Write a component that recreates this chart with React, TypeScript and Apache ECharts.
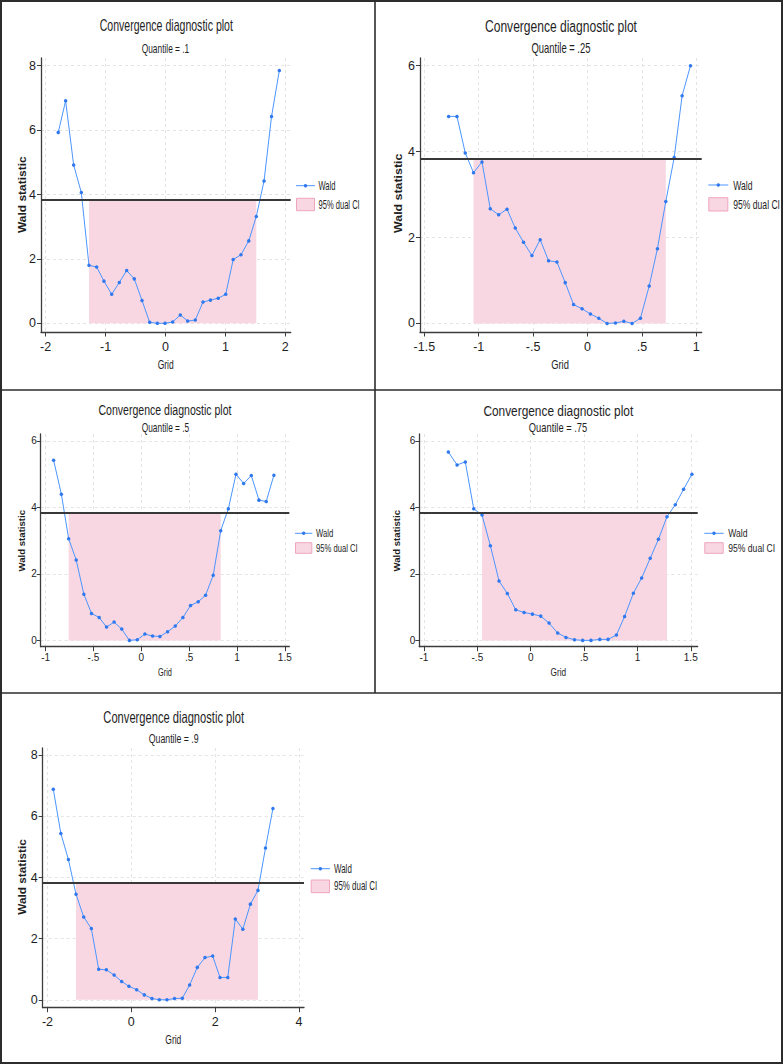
import React, { useEffect, useRef } from 'react';
import * as echarts from 'echarts';

// ---------------- DATA ----------------
const critValue = 3.84;
const quantileLabels = ['.1', '.25', '.5', '.75', '.9'];

const gridQ10 = [-1.79, -1.667, -1.533, -1.405, -1.277, -1.149, -1.027, -0.898, -0.771, -0.648, -0.521, -0.392, -0.264, -0.136, -0.008, 0.12, 0.247, 0.37, 0.497, 0.626, 0.75, 0.88, 1.005, 1.13, 1.26, 1.39, 1.516, 1.645, 1.77, 1.9];
const waldQ10 = [5.93, 6.91, 4.92, 4.06, 1.8, 1.75, 1.31, 0.9, 1.27, 1.64, 1.38, 0.71, 0.03, 0, 0, 0.04, 0.26, 0.07, 0.1, 0.66, 0.72, 0.78, 0.9, 1.98, 2.13, 2.56, 3.32, 4.42, 6.42, 7.85];

const gridQ25 = [-1.277, -1.2, -1.124, -1.048, -0.97, -0.894, -0.817, -0.74, -0.664, -0.588, -0.511, -0.435, -0.358, -0.281, -0.205, -0.128, -0.05, 0.027, 0.104, 0.18, 0.257, 0.334, 0.41, 0.487, 0.567, 0.643, 0.72, 0.797, 0.87, 0.947];
const waldQ25 = [4.82, 4.82, 3.97, 3.51, 3.76, 2.67, 2.53, 2.66, 2.22, 1.89, 1.58, 1.95, 1.46, 1.43, 0.95, 0.44, 0.34, 0.22, 0.12, 0, 0.01, 0.05, 0, 0.12, 0.87, 1.74, 2.84, 3.86, 5.3, 6.0];

const gridQ50 = [-0.916, -0.835, -0.759, -0.68, -0.6, -0.52, -0.44, -0.363, -0.284, -0.204, -0.124, -0.042, 0.038, 0.118, 0.195, 0.275, 0.355, 0.435, 0.515, 0.595, 0.672, 0.752, 0.83, 0.91, 0.99, 1.07, 1.15, 1.23, 1.306, 1.386];
const waldQ50 = [5.42, 4.4, 3.06, 2.42, 1.39, 0.81, 0.69, 0.4, 0.55, 0.34, 0, 0.02, 0.19, 0.13, 0.12, 0.26, 0.43, 0.69, 1.05, 1.16, 1.36, 1.96, 3.3, 3.96, 5.0, 4.72, 4.96, 4.22, 4.18, 4.97];

const gridQ75 = [-0.772, -0.69, -0.613, -0.534, -0.456, -0.378, -0.297, -0.219, -0.14, -0.062, 0.016, 0.094, 0.172, 0.253, 0.331, 0.41, 0.487, 0.565, 0.647, 0.725, 0.803, 0.88, 0.962, 1.04, 1.12, 1.197, 1.277, 1.355, 1.433, 1.511];
const waldQ75 = [5.67, 5.28, 5.37, 3.96, 3.77, 2.85, 1.79, 1.41, 0.92, 0.84, 0.79, 0.73, 0.52, 0.22, 0.09, 0.02, 0, 0, 0.03, 0.03, 0.16, 0.72, 1.42, 1.88, 2.47, 3.04, 3.72, 4.08, 4.55, 5.0];

const gridQ90 = [-1.86, -1.68, -1.5, -1.318, -1.135, -0.953, -0.778, -0.595, -0.41, -0.23, -0.056, 0.127, 0.31, 0.493, 0.668, 0.85, 1.03, 1.216, 1.39, 1.574, 1.757, 1.94, 2.115, 2.3, 2.48, 2.66, 2.84, 3.02, 3.2, 3.377];
const waldQ90 = [6.89, 5.44, 4.59, 3.45, 2.71, 2.33, 1.0, 0.98, 0.81, 0.6, 0.44, 0.33, 0.16, 0.04, 0, 0, 0.04, 0.05, 0.48, 1.06, 1.38, 1.43, 0.73, 0.73, 2.64, 2.31, 3.13, 3.58, 4.97, 6.26];

const ciLow = [-1.277, -1.048, -0.759, -0.456, -1.318];
const ciHigh = [1.516, 0.72, 0.83, 1.277, 3.02];

const xTicksQ10 = [-2, -1, 0, 1, 2];
const xTicksQ25 = [-1.5, -1, -0.5, 0, 0.5, 1];
const xTicksQ50 = [-1, -0.5, 0, 0.5, 1, 1.5];
const xTicksQ75 = [-1, -0.5, 0, 0.5, 1, 1.5];
const xTicksQ90 = [-2, 0, 2, 4];
const yTicksQ10 = [0, 2, 4, 6, 8];
const yTicksQ25 = [0, 2, 4, 6];
const yTicksQ50 = [0, 2, 4, 6];
const yTicksQ75 = [0, 2, 4, 6];
const yTicksQ90 = [0, 2, 4, 6, 8];

const gridValues = [gridQ10, gridQ25, gridQ50, gridQ75, gridQ90];
const waldValues = [waldQ10, waldQ25, waldQ50, waldQ75, waldQ90];
const xTicks = [xTicksQ10, xTicksQ25, xTicksQ50, xTicksQ75, xTicksQ90];
const yTicks = [yTicksQ10, yTicksQ25, yTicksQ50, yTicksQ75, yTicksQ90];

const titleText = 'Convergence diagnostic plot';
const yNameText = 'Wald statistic';
const xNameText = 'Grid';
const waldName = 'Wald';
const ciName = '95% dual CI';

// ---------------- LAYOUT ----------------
const layout = [
  {
    grid: { left: 41, top: 58, width: 249.7, height: 274 }, xr: [-2.078, 2.09], yr: [-0.27, 8.24],
    tickFont: 12.5, xMargin: 8, yMargin: 5,
    title: { x: 166.3, y: 26, size: 16, sx: 0.66 }, sub: { x: 165.5, y: 48.3, size: 13, sx: 0.643 },
    yName: { x: 22.7, y: 194.7, size: 12, bold: true }, xName: { x: 165.7, y: 364, size: 12.5, sx: 0.68 },
    legend: { x: 296, lw: 19, yWald: 185.7, rectTop: 198.3, rectH: 12.4, tx: 318.5, yCi: 204.7, font: 12, sx: 0.632 },
  },
  {
    grid: { left: 420, top: 58, width: 281.7, height: 274 }, xr: [-1.54, 1.05], yr: [-0.2, 6.18],
    tickFont: 12.5, xMargin: 8, yMargin: 5,
    title: { x: 561, y: 26, size: 17, sx: 0.709 }, sub: { x: 561, y: 48.7, size: 14, sx: 0.674 },
    yName: { x: 398.3, y: 193.3, size: 12.4, bold: true }, xName: { x: 560, y: 364, size: 13, sx: 0.72 },
    legend: { x: 708.3, lw: 20, yWald: 185, rectTop: 197.7, rectH: 13.3, tx: 733.3, yCi: 204.3, font: 13, sx: 0.66 },
  },
  {
    grid: { left: 40.7, top: 434, width: 248.6, height: 212.7 }, xr: [-1.051, 1.547], yr: [-0.19, 6.21],
    tickFont: 10, xMargin: 6, yMargin: 4,
    title: { x: 165, y: 410, size: 15.5, sx: 0.68 }, sub: { x: 165.5, y: 427.3, size: 12.5, sx: 0.668 },
    yName: { x: 22.7, y: 540.7, size: 9.6, bold: true }, xName: { x: 165, y: 672.3, size: 11, sx: 0.67 },
    legend: { x: 295, lw: 17.3, yWald: 533.3, rectTop: 542.7, rectH: 10.6, tx: 316, yCi: 548, font: 11, sx: 0.696 },
  },
  {
    grid: { left: 419.3, top: 434, width: 278.4, height: 212.7 }, xr: [-1.044, 1.565], yr: [-0.19, 6.21],
    tickFont: 10, xMargin: 6, yMargin: 4,
    title: { x: 558.3, y: 410, size: 15.5, sx: 0.767 }, sub: { x: 558, y: 427.3, size: 12.5, sx: 0.746 },
    yName: { x: 397.7, y: 540.7, size: 9.6, bold: true }, xName: { x: 558.3, y: 672.3, size: 11, sx: 0.75 },
    legend: { x: 704.3, lw: 19.4, yWald: 533.3, rectTop: 542.7, rectH: 10.6, tx: 728.3, yCi: 548, font: 11, sx: 0.78 },
  },
  {
    grid: { left: 42.7, top: 748, width: 261.3, height: 259.7 }, xr: [-2.113, 4.118], yr: [-0.26, 8.24],
    tickFont: 12.5, xMargin: 8, yMargin: 5,
    title: { x: 173.7, y: 716.7, size: 16.5, sx: 0.676 }, sub: { x: 173.7, y: 738.3, size: 13.5, sx: 0.65 },
    yName: { x: 22.7, y: 877, size: 11.8, bold: true }, xName: { x: 173.3, y: 1039, size: 12.5, sx: 0.68 },
    legend: { x: 310.7, lw: 19.3, yWald: 868.7, rectTop: 880, rectH: 12.7, tx: 334, yCi: 886.3, font: 12.5, sx: 0.636 },
  },
];

const SANS = "'Liberation Sans', Arial, Helvetica, sans-serif";
const BLUE = '#4b95ff';
const BLUE_DARK = '#2f78ee';
const PINK = '#f8d7e2';
const PINK_EDGE = '#efa6bd';
const INK = '#1e1e1e';
const AXIS = '#3c3c3c';
const FRAME = '#2c2c2c';

function fmt(v: number): string {
  if (v === 0) return '0';
  return String(v).replace(/^(-?)0\./, '$1.');
}

function buildOption() {
  const grids: any[] = [];
  const xAxes: any[] = [];
  const yAxes: any[] = [];
  const series: any[] = [];
  const graphics: any[] = [];

  layout.forEach((p, i) => {
    grids.push({ ...p.grid, containLabel: false });
    xAxes.push({
      type: 'value', gridIndex: i, min: p.xr[0], max: p.xr[1],
      axisLine: { show: true, onZero: false, lineStyle: { color: AXIS, width: 1.3 } },
      axisTick: { show: true, length: 4.5, customValues: xTicks[i], lineStyle: { color: AXIS, width: 1 } },
      axisLabel: { customValues: xTicks[i], formatter: fmt, fontSize: p.tickFont, fontFamily: SANS, color: INK, margin: p.xMargin },
      splitLine: { show: true, lineStyle: { color: '#e4e4e4', type: [3, 3], width: 1 } },
    });
    yAxes.push({
      type: 'value', gridIndex: i, min: p.yr[0], max: p.yr[1],
      axisLine: { show: true, onZero: false, lineStyle: { color: AXIS, width: 1.3 } },
      axisTick: { show: true, length: 4, customValues: yTicks[i], lineStyle: { color: AXIS, width: 1 } },
      axisLabel: { customValues: yTicks[i], formatter: fmt, fontSize: p.tickFont, fontFamily: SANS, color: INK, margin: p.yMargin },
      splitLine: { show: true, lineStyle: { color: '#e4e4e4', type: [3, 3], width: 1 } },
    });

    series.push({
      type: 'line', name: ciName, xAxisIndex: i, yAxisIndex: i,
      data: [[ciLow[i], critValue], [ciHigh[i], critValue]],
      symbol: 'none', silent: true, z: 1,
      lineStyle: { width: 0, color: PINK }, itemStyle: { color: PINK },
      areaStyle: { color: PINK, opacity: 1 },
    });
    series.push({
      type: 'line', name: waldName, xAxisIndex: i, yAxisIndex: i,
      data: gridValues[i].map((x, j) => [x, waldValues[i][j]]),
      symbol: 'circle', symbolSize: 3.5, showAllSymbol: true, z: 3, silent: true,
      lineStyle: { color: BLUE, width: 1 }, itemStyle: { color: BLUE_DARK },
      markLine: {
        silent: true, symbol: ['none', 'none'], label: { show: false },
        lineStyle: { color: '#383838', width: 1.8, type: 'solid' },
        data: [{ yAxis: critValue }],
      },
    });

    // legend (drawn as graphic so its text can be condensed like the reference)
    const L = p.legend;
    graphics.push({
      type: 'line', silent: true,
      shape: { x1: L.x, y1: L.yWald, x2: L.x + L.lw, y2: L.yWald },
      style: { stroke: BLUE, lineWidth: 1 },
    });
    graphics.push({
      type: 'circle', silent: true,
      shape: { cx: L.x + L.lw / 2, cy: L.yWald, r: 1.7 },
      style: { fill: BLUE_DARK },
    });
    graphics.push({
      type: 'text', x: L.tx, y: L.yWald, scaleX: L.sx, silent: true,
      style: { text: waldName, fontSize: L.font, fontFamily: SANS, fill: INK, align: 'left', verticalAlign: 'middle' },
    });
    graphics.push({
      type: 'rect', silent: true,
      shape: { x: L.x + 0.5, y: L.rectTop, width: L.lw - 1, height: L.rectH },
      style: { fill: PINK, stroke: PINK_EDGE, lineWidth: 1 },
    });
    graphics.push({
      type: 'text', x: L.tx, y: L.yCi, scaleX: L.sx, silent: true,
      style: { text: ciName, fontSize: L.font, fontFamily: SANS, fill: INK, align: 'left', verticalAlign: 'middle' },
    });

    graphics.push({
      type: 'text', x: p.title.x, y: p.title.y, scaleX: p.title.sx, silent: true,
      style: { text: titleText, fontSize: p.title.size, fontFamily: SANS, fill: INK, align: 'center', verticalAlign: 'middle' },
    });
    graphics.push({
      type: 'text', x: p.sub.x, y: p.sub.y, scaleX: p.sub.sx, silent: true,
      style: { text: 'Quantile = ' + quantileLabels[i], fontSize: p.sub.size, fontFamily: SANS, fill: INK, align: 'center', verticalAlign: 'middle' },
    });
    graphics.push({
      type: 'text', x: p.yName.x, y: p.yName.y, rotation: Math.PI / 2, scaleY: 0.85, silent: true,
      style: { text: yNameText, fontSize: p.yName.size, fontWeight: p.yName.bold ? 'bold' : 'normal', fontFamily: SANS, fill: INK, align: 'center', verticalAlign: 'middle' },
    });
    graphics.push({
      type: 'text', x: p.xName.x, y: p.xName.y, scaleX: p.xName.sx, silent: true,
      style: { text: xNameText, fontSize: p.xName.size, fontFamily: SANS, fill: INK, align: 'center', verticalAlign: 'middle' },
    });
  });

  // panel frames
  graphics.push({ type: 'rect', silent: true, shape: { x: 1, y: 1, width: 781, height: 1062 }, style: { fill: 'none', stroke: FRAME, lineWidth: 2 } });
  graphics.push({ type: 'line', silent: true, shape: { x1: 0, y1: 390, x2: 783, y2: 390 }, style: { stroke: FRAME, lineWidth: 1.6 } });
  graphics.push({ type: 'line', silent: true, shape: { x1: 0, y1: 693, x2: 783, y2: 693 }, style: { stroke: FRAME, lineWidth: 1.6 } });
  graphics.push({ type: 'line', silent: true, shape: { x1: 375, y1: 0, x2: 375, y2: 693 }, style: { stroke: FRAME, lineWidth: 1.6 } });

  return {
    animation: false,
    backgroundColor: '#ffffff',
    grid: grids,
    xAxis: xAxes,
    yAxis: yAxes,
    series,
    graphic: graphics,
  };
}

export default function App() {
  const ref = useRef<HTMLDivElement>(null);
  useEffect(() => {
    if (!ref.current) return;
    const chart = echarts.init(ref.current, undefined, { renderer: 'svg' });
    chart.setOption(buildOption() as any);
    return () => chart.dispose();
  }, []);
  return <div ref={ref} style={{ position: 'absolute', left: 0, top: 0, width: 783, height: 1064, background: '#fff' }} />;
}
